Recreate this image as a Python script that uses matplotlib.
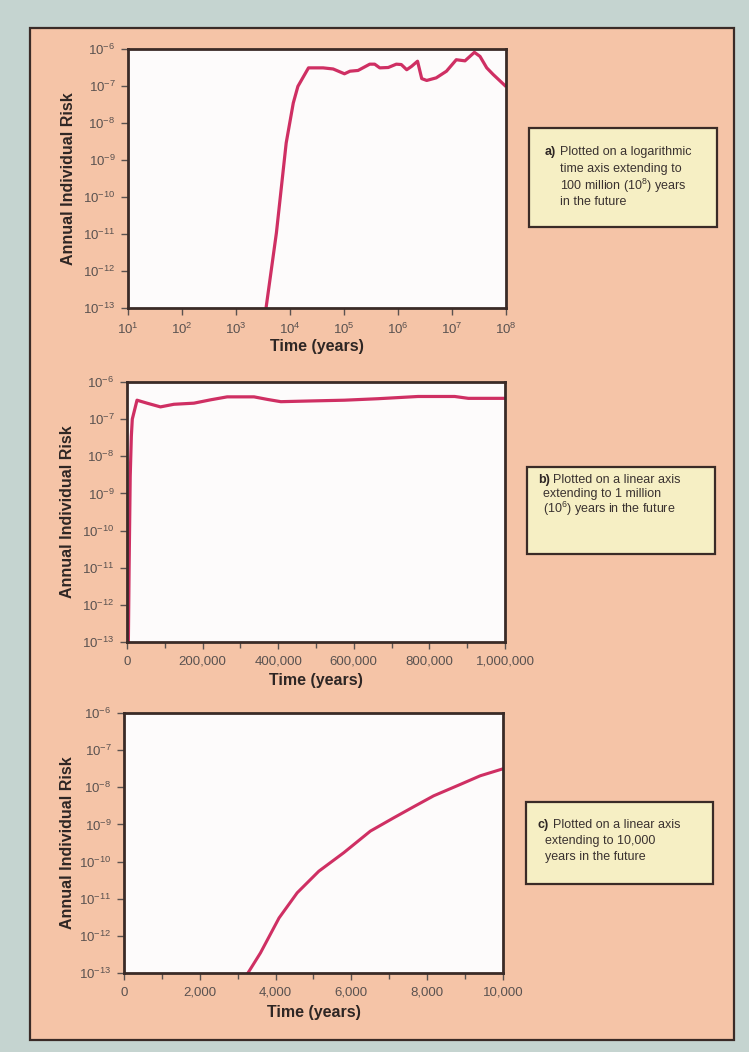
import numpy as np
import matplotlib
matplotlib.use("Agg")
import matplotlib.pyplot as plt
from matplotlib.patches import Rectangle
from matplotlib.ticker import FixedLocator, FixedFormatter, NullLocator

# ----------------- data -----------------
# a) log time axis
t_log = [3.6e3, 5.6e3, 8.5e3, 1.15e4, 1.4e4, 2.2e4, 4.1e4, 6.3e4, 1.02e5, 1.29e5,
         1.82e5, 3.0e5, 3.7e5, 4.6e5, 6.6e5, 9.3e5, 1.15e6, 1.45e6, 1.78e6, 2.3e6,
         2.75e6, 3.4e6, 5.1e6, 7.9e6, 1.2e7, 1.74e7, 2.6e7, 3.3e7, 4.4e7, 5.8e7, 9.6e7]
r_log = [-13.0, -10.97, -8.54, -7.46, -7.01, -6.51, -6.51, -6.54, -6.67, -6.60,
         -6.58, -6.41, -6.41, -6.51, -6.50, -6.41, -6.42, -6.56, -6.47, -6.33,
         -6.80, -6.85, -6.78, -6.60, -6.29, -6.32, -6.09, -6.20, -6.51, -6.69, -6.99]

# b) linear axis to 1 million years
t_mil = [3600, 5600, 8500, 11500, 14000, 26500, 53000, 88500, 124000, 177000,
         221000, 265000, 336000, 372000, 407000, 487000, 575000, 664000, 770000,
         867000, 903000, 1000000]
r_mil = [-13.0, -10.97, -8.54, -7.46, -7.0, -6.49, -6.57, -6.67, -6.60, -6.57,
         -6.48, -6.40, -6.40, -6.47, -6.53, -6.51, -6.49, -6.45, -6.39,
         -6.39, -6.44, -6.44]

# c) linear axis to 10,000 years
t_10k = [3270, 3600, 4090, 4570, 5140, 5800, 6500, 7120, 7650, 8170, 8880, 9400, 9975]
r_10k = [-13.0, -12.46, -11.52, -10.84, -10.26, -9.76, -9.18, -8.82, -8.52,
         -8.23, -7.92, -7.69, -7.51]

y_exps = [-6, -7, -8, -9, -10, -11, -12, -13]
xlog_exps = [1, 2, 3, 4, 5, 6, 7, 8]
xmil_ticks = [0, 200000, 400000, 600000, 800000, 1000000]
xmil_labels = ["0", "200,000", "400,000", "600,000", "800,000", "1,000,000"]
x10k_ticks = [0, 2000, 4000, 6000, 8000, 10000]
x10k_labels = ["0", "2,000", "4,000", "6,000", "8,000", "10,000"]

notes = [
    ("a)", ["Plotted on a logarithmic", "time axis extending to",
            "100 million (10$^8$) years", "in the future"]),
    ("b)", ["Plotted on a linear axis", "extending to 1 million",
            "(10$^6$) years in the future"]),
    ("c)", ["Plotted on a linear axis", "extending to 10,000",
            "years in the future"]),
]
# -----------------------------------------

plt.rcParams["font.family"] = ["Liberation Sans", "DejaVu Sans"]
plt.rcParams["mathtext.fontset"] = "custom"
plt.rcParams["mathtext.rm"] = "Liberation Sans"
plt.rcParams["mathtext.it"] = "Liberation Sans"

W, H = 749, 1052
BG = "#c5d4d0"
PANEL = "#f5c4a7"
FRAME = "#3a2b27"
LINE = "#cf2f63"
TICKC = "#5a5250"

fig = plt.figure(figsize=(W / 100, H / 100), dpi=100, facecolor=BG)

# salmon panel with dark border (behind the axes)
fig.patches.append(Rectangle((30 / W, 1 - 1040 / H), (734 - 30) / W, (1040 - 28) / H,
                             transform=fig.transFigure, facecolor=PANEL,
                             edgecolor=FRAME, linewidth=1.6, zorder=-5))


def px_axes(l, t, r, b):
    return fig.add_axes([l / W, 1 - b / H, (r - l) / W, (b - t) / H], zorder=2)


def style(ax, left, w, h):
    ax.set_facecolor("#fdfbfb")
    for s in ax.spines.values():
        s.set_color(FRAME)
        s.set_linewidth(2.0)
    ax.set_ylim(-13, -6)
    ax.yaxis.set_major_locator(FixedLocator(y_exps))
    ax.yaxis.set_major_formatter(FixedFormatter([f"10$^{{{e}}}$" for e in y_exps]))
    ax.yaxis.set_minor_locator(NullLocator())
    ax.tick_params(axis="both", which="both", direction="out", color=TICKC,
                   labelcolor=TICKC, labelsize=9.5, right=False, top=False)
    ax.tick_params(axis="y", length=5, width=1, pad=4)
    ax.tick_params(axis="x", which="major", length=5, width=1, pad=5)
    ax.tick_params(axis="x", which="minor", length=4, width=1)
    ax.set_ylabel("Annual Individual Risk", fontsize=11.5, fontweight="bold", color="#2e2624")
    ax.yaxis.set_label_coords(-(left - 68) / w, 0.5)
    ax.yaxis.label.set_verticalalignment("center")
    ax.set_xlabel("Time (years)", fontsize=11.5, fontweight="bold", color="#2e2624")
    ax.xaxis.set_label_coords(0.5, -39 / h)
    ax.xaxis.label.set_verticalalignment("center")


# a) log time axis
ax1 = px_axes(128, 49, 506, 308)
ax1.plot(np.log10(t_log), r_log, color=LINE, lw=2.3, solid_joinstyle="round")
ax1.set_xlim(1, 8)
ax1.xaxis.set_major_locator(FixedLocator(xlog_exps))
ax1.xaxis.set_major_formatter(FixedFormatter([f"10$^{{{e}}}$" for e in xlog_exps]))
style(ax1, 128, 378, 259)

# b) linear axis to 1 million years
ax2 = px_axes(127, 382, 505, 642)
ax2.plot(t_mil, r_mil, color=LINE, lw=2.3, solid_joinstyle="round")
ax2.set_xlim(0, 1000000)
ax2.xaxis.set_major_locator(FixedLocator(xmil_ticks))
ax2.xaxis.set_major_formatter(FixedFormatter(xmil_labels))
ax2.xaxis.set_minor_locator(FixedLocator(np.arange(100000, 1000000, 200000)))
style(ax2, 127, 378, 260)

# c) linear axis to 10,000 years
ax3 = px_axes(124, 713, 503, 973)
ax3.plot(t_10k, r_10k, color=LINE, lw=2.2, solid_joinstyle="round")
ax3.set_xlim(0, 10000)
ax3.xaxis.set_major_locator(FixedLocator(x10k_ticks))
ax3.xaxis.set_major_formatter(FixedFormatter(x10k_labels))
ax3.xaxis.set_minor_locator(FixedLocator(np.arange(1000, 10000, 2000)))
style(ax3, 124, 379, 260)

# annotation boxes
boxes = [(529, 128, 717, 227), (527, 467, 715, 554), (526, 802, 713, 884)]
first_x = [545, 538, 538]
rest_x = [560, 543, 545]
line_y = [[152, 169, 186, 202], [480, 494, 509], [825, 841, 857]]
for (l, t, r, b), (tag, lines), fx, rx, ys in zip(boxes, notes, first_x, rest_x, line_y):
    fig.patches.append(Rectangle((l / W, 1 - b / H), (r - l) / W, (b - t) / H,
                                 transform=fig.transFigure, facecolor="#f6efc4",
                                 edgecolor=FRAME, linewidth=1.6, zorder=1))
    fig.text(fx / W, 1 - ys[0] / H, tag, fontsize=9, fontweight="bold",
             color="#2e2624", va="center", ha="left")
    fig.text((fx + 15) / W, 1 - ys[0] / H, lines[0], fontsize=9,
             color="#3a3230", va="center", ha="left")
    for txt, y in zip(lines[1:], ys[1:]):
        fig.text(rx / W, 1 - y / H, txt, fontsize=9, color="#3a3230",
                 va="center", ha="left")

fig.savefig("out.png", dpi=100, facecolor=BG)
